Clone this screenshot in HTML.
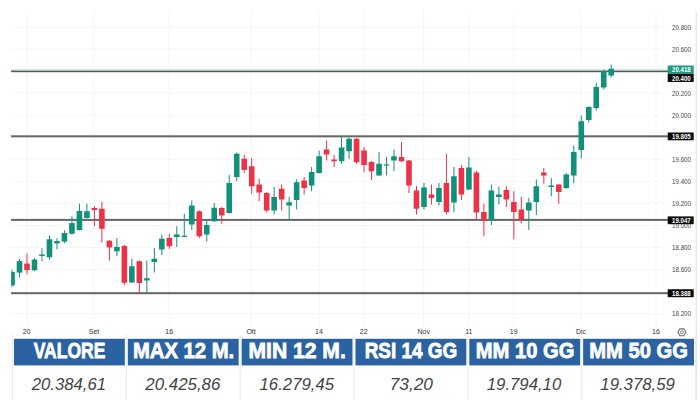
<!DOCTYPE html>
<html><head><meta charset="utf-8"><style>
html,body{margin:0;padding:0;background:#fff;width:700px;height:400px;overflow:hidden;position:relative}
svg{position:absolute;left:0;top:0}
.ax{font-family:"Liberation Sans",sans-serif;font-size:7.2px;fill:#474747}
.tl{font-size:7px;fill:#333}
.ht{font-family:"Liberation Sans",sans-serif;font-weight:bold;font-size:22px;fill:#fff;stroke:#fff;stroke-width:0.8px}
.vt{font-family:"Liberation Sans",sans-serif;font-style:italic;font-size:16.2px;fill:#444444}
.tg{font-family:"Liberation Sans",sans-serif;font-size:7.2px;fill:#fff;font-weight:bold}
</style></head><body>
<svg width="700" height="400" viewBox="0 0 700 400">
<rect x="26.10" y="12" width="1" height="314" fill="#f6f6f6"/>
<rect x="93.50" y="12" width="1" height="314" fill="#f6f6f6"/>
<rect x="168.70" y="12" width="1" height="314" fill="#f6f6f6"/>
<rect x="250.60" y="12" width="1" height="314" fill="#f6f6f6"/>
<rect x="318.50" y="12" width="1" height="314" fill="#f6f6f6"/>
<rect x="363.20" y="12" width="1" height="314" fill="#f6f6f6"/>
<rect x="423.20" y="12" width="1" height="314" fill="#f6f6f6"/>
<rect x="468.30" y="12" width="1" height="314" fill="#f6f6f6"/>
<rect x="513.20" y="12" width="1" height="314" fill="#f6f6f6"/>
<rect x="580.50" y="12" width="1" height="314" fill="#f6f6f6"/>
<rect x="655.50" y="12" width="1" height="314" fill="#f6f6f6"/>
<rect x="10" y="26.40" width="657" height="1" fill="#f6f6f6"/>
<rect x="10" y="48.46" width="657" height="1" fill="#f6f6f6"/>
<rect x="10" y="70.52" width="657" height="1" fill="#f6f6f6"/>
<rect x="10" y="92.58" width="657" height="1" fill="#f6f6f6"/>
<rect x="10" y="114.64" width="657" height="1" fill="#f6f6f6"/>
<rect x="10" y="136.70" width="657" height="1" fill="#f6f6f6"/>
<rect x="10" y="158.76" width="657" height="1" fill="#f6f6f6"/>
<rect x="10" y="180.82" width="657" height="1" fill="#f6f6f6"/>
<rect x="10" y="202.88" width="657" height="1" fill="#f6f6f6"/>
<rect x="10" y="224.94" width="657" height="1" fill="#f6f6f6"/>
<rect x="10" y="247.00" width="657" height="1" fill="#f6f6f6"/>
<rect x="10" y="269.06" width="657" height="1" fill="#f6f6f6"/>
<rect x="10" y="291.12" width="657" height="1" fill="#f6f6f6"/>
<rect x="10" y="313.18" width="657" height="1" fill="#f6f6f6"/>
<rect x="695.6" y="12" width="1.6" height="388" fill="#e8e8e8"/>
<rect x="11" y="135.30" width="657" height="2" fill="#666666"/>
<rect x="11" y="218.90" width="657" height="2" fill="#666666"/>
<rect x="11" y="292.20" width="657" height="2" fill="#666666"/>
<rect x="11" y="68.9" width="657" height="1.6" fill="#dbeae7"/><rect x="11" y="70.6" width="657" height="1.6" fill="#555a59"/>
<defs><clipPath id="cp"><rect x="11.2" y="0" width="660" height="330"/></clipPath></defs><g clip-path="url(#cp)"><rect x="11.52" y="269.70" width="1" height="17.50" fill="#11907a"/>
<rect x="9.22" y="271.90" width="5.6" height="13.50" fill="#11907a"/>
<rect x="19.01" y="258.90" width="1" height="18.60" fill="#11907a"/>
<rect x="16.71" y="261.10" width="5.6" height="11.50" fill="#11907a"/>
<rect x="26.50" y="253.50" width="1" height="20.70" fill="#ec3249"/>
<rect x="24.20" y="263.60" width="5.6" height="6.50" fill="#ec3249"/>
<rect x="33.99" y="258.00" width="1" height="13.00" fill="#11907a"/>
<rect x="31.69" y="259.60" width="5.6" height="10.70" fill="#11907a"/>
<rect x="41.48" y="248.30" width="1" height="12.80" fill="#11907a"/>
<rect x="39.18" y="254.50" width="5.6" height="1.50" fill="#11907a"/>
<rect x="48.97" y="235.50" width="1" height="24.10" fill="#11907a"/>
<rect x="46.67" y="239.30" width="5.6" height="18.00" fill="#11907a"/>
<rect x="56.46" y="238.20" width="1" height="10.80" fill="#11907a"/>
<rect x="54.16" y="241.10" width="5.6" height="2.30" fill="#11907a"/>
<rect x="63.95" y="230.30" width="1" height="12.70" fill="#11907a"/>
<rect x="61.65" y="233.00" width="5.6" height="8.60" fill="#11907a"/>
<rect x="71.44" y="216.20" width="1" height="18.60" fill="#11907a"/>
<rect x="69.14" y="223.10" width="5.6" height="10.60" fill="#11907a"/>
<rect x="78.93" y="203.60" width="1" height="26.90" fill="#11907a"/>
<rect x="76.63" y="211.00" width="5.6" height="19.00" fill="#11907a"/>
<rect x="86.42" y="203.75" width="1" height="14.75" fill="#11907a"/>
<rect x="84.12" y="211.25" width="5.6" height="6.75" fill="#11907a"/>
<rect x="93.91" y="206.25" width="1" height="20.00" fill="#ec3249"/>
<rect x="91.61" y="208.00" width="5.6" height="2.00" fill="#ec3249"/>
<rect x="101.40" y="202.00" width="1" height="40.50" fill="#ec3249"/>
<rect x="99.10" y="208.75" width="5.6" height="20.00" fill="#ec3249"/>
<rect x="108.89" y="240.00" width="1" height="20.50" fill="#ec3249"/>
<rect x="106.59" y="240.75" width="5.6" height="6.75" fill="#ec3249"/>
<rect x="116.38" y="238.00" width="1" height="18.25" fill="#11907a"/>
<rect x="114.08" y="247.00" width="5.6" height="4.25" fill="#11907a"/>
<rect x="123.87" y="245.00" width="1" height="40.00" fill="#ec3249"/>
<rect x="121.57" y="246.00" width="5.6" height="36.75" fill="#ec3249"/>
<rect x="131.36" y="258.75" width="1" height="24.25" fill="#11907a"/>
<rect x="129.06" y="266.25" width="5.6" height="16.25" fill="#11907a"/>
<rect x="138.85" y="260.50" width="1" height="32.50" fill="#ec3249"/>
<rect x="136.55" y="261.25" width="5.6" height="21.75" fill="#ec3249"/>
<rect x="146.34" y="260.50" width="1" height="32.50" fill="#11907a"/>
<rect x="144.04" y="278.25" width="5.6" height="2.25" fill="#11907a"/>
<rect x="153.83" y="248.00" width="1" height="24.50" fill="#11907a"/>
<rect x="151.53" y="258.75" width="5.6" height="3.25" fill="#11907a"/>
<rect x="161.32" y="234.50" width="1" height="20.50" fill="#11907a"/>
<rect x="159.02" y="238.75" width="5.6" height="10.75" fill="#11907a"/>
<rect x="168.81" y="233.75" width="1" height="15.00" fill="#ec3249"/>
<rect x="166.51" y="238.00" width="5.6" height="8.25" fill="#ec3249"/>
<rect x="176.30" y="226.25" width="1" height="20.75" fill="#11907a"/>
<rect x="174.00" y="234.50" width="5.6" height="2.50" fill="#11907a"/>
<rect x="183.79" y="213.75" width="1" height="23.25" fill="#11907a"/>
<rect x="181.49" y="235.65" width="5.6" height="1.20" fill="#11907a"/>
<rect x="191.28" y="200.50" width="1" height="29.50" fill="#11907a"/>
<rect x="188.98" y="205.50" width="5.6" height="19.00" fill="#11907a"/>
<rect x="198.77" y="210.50" width="1" height="27.50" fill="#ec3249"/>
<rect x="196.47" y="211.25" width="5.6" height="25.00" fill="#ec3249"/>
<rect x="206.26" y="219.50" width="1" height="22.00" fill="#11907a"/>
<rect x="203.96" y="225.00" width="5.6" height="9.50" fill="#11907a"/>
<rect x="213.75" y="203.00" width="1" height="19.00" fill="#11907a"/>
<rect x="211.45" y="207.75" width="5.6" height="13.50" fill="#11907a"/>
<rect x="221.24" y="207.00" width="1" height="16.75" fill="#ec3249"/>
<rect x="218.94" y="208.00" width="5.6" height="7.50" fill="#ec3249"/>
<rect x="228.73" y="175.00" width="1" height="38.50" fill="#11907a"/>
<rect x="226.43" y="183.00" width="5.6" height="30.00" fill="#11907a"/>
<rect x="236.22" y="152.50" width="1" height="28.75" fill="#11907a"/>
<rect x="233.92" y="153.75" width="5.6" height="23.25" fill="#11907a"/>
<rect x="243.71" y="154.50" width="1" height="18.50" fill="#ec3249"/>
<rect x="241.41" y="158.75" width="5.6" height="11.25" fill="#ec3249"/>
<rect x="251.20" y="158.00" width="1" height="35.75" fill="#ec3249"/>
<rect x="248.90" y="166.25" width="5.6" height="20.00" fill="#ec3249"/>
<rect x="258.69" y="178.75" width="1" height="22.50" fill="#ec3249"/>
<rect x="256.39" y="184.50" width="5.6" height="8.00" fill="#ec3249"/>
<rect x="266.18" y="192.00" width="1" height="20.50" fill="#ec3249"/>
<rect x="263.88" y="193.00" width="5.6" height="17.50" fill="#ec3249"/>
<rect x="273.67" y="187.00" width="1" height="27.50" fill="#11907a"/>
<rect x="271.37" y="197.00" width="5.6" height="13.50" fill="#11907a"/>
<rect x="281.16" y="184.50" width="1" height="26.00" fill="#ec3249"/>
<rect x="278.86" y="188.75" width="5.6" height="10.75" fill="#ec3249"/>
<rect x="288.65" y="197.00" width="1" height="22.50" fill="#11907a"/>
<rect x="286.35" y="202.25" width="5.6" height="3.25" fill="#11907a"/>
<rect x="296.14" y="179.50" width="1" height="30.00" fill="#11907a"/>
<rect x="293.84" y="182.25" width="5.6" height="17.75" fill="#11907a"/>
<rect x="303.63" y="177.00" width="1" height="17.50" fill="#ec3249"/>
<rect x="301.33" y="180.50" width="5.6" height="7.50" fill="#ec3249"/>
<rect x="311.12" y="167.00" width="1" height="24.25" fill="#11907a"/>
<rect x="308.82" y="172.00" width="5.6" height="13.50" fill="#11907a"/>
<rect x="318.61" y="150.50" width="1" height="23.00" fill="#11907a"/>
<rect x="316.31" y="156.25" width="5.6" height="16.75" fill="#11907a"/>
<rect x="326.10" y="140.50" width="1" height="20.00" fill="#ec3249"/>
<rect x="323.80" y="149.50" width="5.6" height="5.00" fill="#ec3249"/>
<rect x="333.59" y="155.00" width="1" height="12.00" fill="#ec3249"/>
<rect x="331.29" y="159.50" width="5.6" height="1.75" fill="#ec3249"/>
<rect x="341.08" y="136.25" width="1" height="27.50" fill="#11907a"/>
<rect x="338.78" y="147.50" width="5.6" height="13.75" fill="#11907a"/>
<rect x="348.57" y="137.50" width="1" height="21.25" fill="#11907a"/>
<rect x="346.27" y="138.75" width="5.6" height="12.50" fill="#11907a"/>
<rect x="356.06" y="138.00" width="1" height="25.75" fill="#ec3249"/>
<rect x="353.76" y="138.75" width="5.6" height="23.50" fill="#ec3249"/>
<rect x="363.55" y="147.00" width="1" height="25.25" fill="#ec3249"/>
<rect x="361.25" y="150.50" width="5.6" height="14.50" fill="#ec3249"/>
<rect x="371.04" y="161.00" width="1" height="19.00" fill="#ec3249"/>
<rect x="368.74" y="162.00" width="5.6" height="9.25" fill="#ec3249"/>
<rect x="378.53" y="152.00" width="1" height="24.00" fill="#11907a"/>
<rect x="376.23" y="163.75" width="5.6" height="11.75" fill="#11907a"/>
<rect x="386.02" y="157.00" width="1" height="18.50" fill="#11907a"/>
<rect x="383.72" y="164.40" width="5.6" height="1.20" fill="#11907a"/>
<rect x="393.51" y="149.50" width="1" height="21.75" fill="#11907a"/>
<rect x="391.21" y="156.25" width="5.6" height="4.25" fill="#11907a"/>
<rect x="401.00" y="142.00" width="1" height="20.00" fill="#ec3249"/>
<rect x="398.70" y="157.00" width="5.6" height="4.25" fill="#ec3249"/>
<rect x="408.49" y="160.00" width="1" height="33.00" fill="#ec3249"/>
<rect x="406.19" y="160.50" width="5.6" height="25.00" fill="#ec3249"/>
<rect x="415.98" y="186.00" width="1" height="28.50" fill="#ec3249"/>
<rect x="413.68" y="190.50" width="5.6" height="18.25" fill="#ec3249"/>
<rect x="423.47" y="183.00" width="1" height="26.50" fill="#11907a"/>
<rect x="421.17" y="187.50" width="5.6" height="19.50" fill="#11907a"/>
<rect x="430.96" y="184.50" width="1" height="20.00" fill="#ec3249"/>
<rect x="428.66" y="194.50" width="5.6" height="3.50" fill="#ec3249"/>
<rect x="438.45" y="183.00" width="1" height="22.50" fill="#11907a"/>
<rect x="436.15" y="188.00" width="5.6" height="14.00" fill="#11907a"/>
<rect x="445.94" y="153.75" width="1" height="60.75" fill="#ec3249"/>
<rect x="443.64" y="183.00" width="5.6" height="29.00" fill="#ec3249"/>
<rect x="453.43" y="167.00" width="1" height="45.50" fill="#11907a"/>
<rect x="451.13" y="176.25" width="5.6" height="26.25" fill="#11907a"/>
<rect x="460.92" y="165.00" width="1" height="35.00" fill="#ec3249"/>
<rect x="458.62" y="168.00" width="5.6" height="26.50" fill="#ec3249"/>
<rect x="468.41" y="157.00" width="1" height="33.00" fill="#11907a"/>
<rect x="466.11" y="167.50" width="5.6" height="22.00" fill="#11907a"/>
<rect x="475.90" y="171.00" width="1" height="49.50" fill="#ec3249"/>
<rect x="473.60" y="172.50" width="5.6" height="40.00" fill="#ec3249"/>
<rect x="483.39" y="203.75" width="1" height="32.50" fill="#ec3249"/>
<rect x="481.09" y="212.00" width="5.6" height="8.50" fill="#ec3249"/>
<rect x="490.88" y="184.50" width="1" height="40.50" fill="#11907a"/>
<rect x="488.58" y="190.50" width="5.6" height="29.50" fill="#11907a"/>
<rect x="498.37" y="186.50" width="1" height="18.00" fill="#11907a"/>
<rect x="496.07" y="194.50" width="5.6" height="2.50" fill="#11907a"/>
<rect x="505.86" y="186.25" width="1" height="20.75" fill="#ec3249"/>
<rect x="503.56" y="190.00" width="5.6" height="9.50" fill="#ec3249"/>
<rect x="513.35" y="191.25" width="1" height="48.15" fill="#ec3249"/>
<rect x="511.05" y="202.00" width="5.6" height="10.00" fill="#ec3249"/>
<rect x="520.84" y="197.00" width="1" height="26.00" fill="#ec3249"/>
<rect x="518.54" y="209.50" width="5.6" height="10.00" fill="#ec3249"/>
<rect x="528.33" y="198.00" width="1" height="32.00" fill="#11907a"/>
<rect x="526.03" y="202.50" width="5.6" height="8.00" fill="#11907a"/>
<rect x="535.82" y="179.50" width="1" height="35.50" fill="#11907a"/>
<rect x="533.52" y="186.25" width="5.6" height="15.75" fill="#11907a"/>
<rect x="543.31" y="168.00" width="1" height="15.75" fill="#ec3249"/>
<rect x="541.01" y="172.50" width="5.6" height="3.00" fill="#ec3249"/>
<rect x="550.80" y="178.00" width="1" height="18.25" fill="#11907a"/>
<rect x="548.50" y="185.50" width="5.6" height="1.50" fill="#11907a"/>
<rect x="558.29" y="184.00" width="1" height="19.75" fill="#ec3249"/>
<rect x="555.99" y="184.50" width="5.6" height="7.50" fill="#ec3249"/>
<rect x="565.78" y="173.00" width="1" height="16.00" fill="#11907a"/>
<rect x="563.48" y="174.50" width="5.6" height="13.50" fill="#11907a"/>
<rect x="573.27" y="145.50" width="1" height="37.50" fill="#11907a"/>
<rect x="570.97" y="152.00" width="5.6" height="23.50" fill="#11907a"/>
<rect x="580.76" y="115.50" width="1" height="43.00" fill="#11907a"/>
<rect x="578.46" y="121.25" width="5.6" height="28.75" fill="#11907a"/>
<rect x="588.25" y="106.25" width="1" height="16.25" fill="#11907a"/>
<rect x="585.95" y="107.00" width="5.6" height="13.00" fill="#11907a"/>
<rect x="595.74" y="82.50" width="1" height="28.00" fill="#11907a"/>
<rect x="593.44" y="87.00" width="5.6" height="21.00" fill="#11907a"/>
<rect x="603.23" y="69.50" width="1" height="20.00" fill="#11907a"/>
<rect x="600.93" y="71.25" width="5.6" height="16.25" fill="#11907a"/>
<rect x="610.72" y="64.50" width="1" height="13.00" fill="#11907a"/>
<rect x="608.42" y="68.75" width="5.6" height="6.75" fill="#11907a"/></g>
<text x="691" y="29.50" text-anchor="end" class="ax" textLength="19" lengthAdjust="spacingAndGlyphs">20.800</text>
<text x="691" y="51.56" text-anchor="end" class="ax" textLength="19" lengthAdjust="spacingAndGlyphs">20.600</text>
<text x="691" y="95.68" text-anchor="end" class="ax" textLength="19" lengthAdjust="spacingAndGlyphs">20.200</text>
<text x="691" y="117.74" text-anchor="end" class="ax" textLength="19" lengthAdjust="spacingAndGlyphs">20.000</text>
<text x="691" y="139.80" text-anchor="end" class="ax" textLength="19" lengthAdjust="spacingAndGlyphs">19.800</text>
<text x="691" y="161.86" text-anchor="end" class="ax" textLength="19" lengthAdjust="spacingAndGlyphs">19.600</text>
<text x="691" y="183.92" text-anchor="end" class="ax" textLength="19" lengthAdjust="spacingAndGlyphs">19.400</text>
<text x="691" y="205.98" text-anchor="end" class="ax" textLength="19" lengthAdjust="spacingAndGlyphs">19.200</text>
<text x="691" y="228.04" text-anchor="end" class="ax" textLength="19" lengthAdjust="spacingAndGlyphs">19.000</text>
<text x="691" y="250.10" text-anchor="end" class="ax" textLength="19" lengthAdjust="spacingAndGlyphs">18.800</text>
<text x="691" y="272.16" text-anchor="end" class="ax" textLength="19" lengthAdjust="spacingAndGlyphs">18.600</text>
<text x="691" y="294.22" text-anchor="end" class="ax" textLength="19" lengthAdjust="spacingAndGlyphs">18.400</text>
<text x="691" y="316.28" text-anchor="end" class="ax" textLength="19" lengthAdjust="spacingAndGlyphs">18.200</text>
<rect x="667.7" y="65.5" width="26" height="8.30" fill="#1b9a86"/>
<text x="690.7" y="72.25" text-anchor="end" class="tg" textLength="18.7" lengthAdjust="spacingAndGlyphs">20.418</text>
<rect x="667.7" y="73.8" width="26" height="8.20" fill="#0b0b0b"/>
<text x="690.7" y="80.50" text-anchor="end" class="tg" textLength="18.7" lengthAdjust="spacingAndGlyphs">20.400</text>
<rect x="667.7" y="132.5" width="26" height="7.80" fill="#0b0b0b"/>
<text x="690.7" y="139.00" text-anchor="end" class="tg" textLength="18.7" lengthAdjust="spacingAndGlyphs">19.805</text>
<rect x="667.7" y="216.4" width="26" height="7.80" fill="#0b0b0b"/>
<text x="690.7" y="222.90" text-anchor="end" class="tg" textLength="18.7" lengthAdjust="spacingAndGlyphs">19.047</text>
<rect x="667.7" y="289.3" width="26" height="7.90" fill="#0b0b0b"/>
<text x="690.7" y="295.85" text-anchor="end" class="tg" textLength="18.7" lengthAdjust="spacingAndGlyphs">18.388</text>
<text x="26.60" y="334.0" text-anchor="middle" class="ax tl">20</text>
<text x="94.00" y="334.0" text-anchor="middle" class="ax tl">Set</text>
<text x="169.20" y="334.0" text-anchor="middle" class="ax tl">16</text>
<text x="251.10" y="334.0" text-anchor="middle" class="ax tl">Ott</text>
<text x="319.00" y="334.0" text-anchor="middle" class="ax tl">14</text>
<text x="363.70" y="334.0" text-anchor="middle" class="ax tl">22</text>
<text x="423.70" y="334.0" text-anchor="middle" class="ax tl">Nov</text>
<text x="468.80" y="334.0" text-anchor="middle" class="ax tl">11</text>
<text x="513.70" y="334.0" text-anchor="middle" class="ax tl">19</text>
<text x="581.00" y="334.0" text-anchor="middle" class="ax tl">Dic</text>
<text x="656.00" y="334.0" text-anchor="middle" class="ax tl">16</text>
<polygon points="677.9,332.3 679.9,328.9 683.9,328.9 685.9,332.3 683.9,335.7 679.9,335.7" fill="none" stroke="#707070" stroke-width="1.1"/>
<circle cx="681.9" cy="332.3" r="1.5" fill="none" stroke="#707070" stroke-width="0.9"/>
<rect x="14.00" y="338.8" width="110.83" height="26.6" fill="#2a62a2"/>
<rect x="12.00" y="334" width="1" height="66" fill="#ececec"/>
<text x="69.55" y="358.3" text-anchor="middle" class="ht" textLength="71.60" lengthAdjust="spacingAndGlyphs">VALORE</text>
<text x="68.90" y="390.0" text-anchor="middle" class="vt" textLength="74.40" lengthAdjust="spacingAndGlyphs">20.384,61</text>
<rect x="127.83" y="338.8" width="110.83" height="26.6" fill="#2a62a2"/>
<rect x="125.83" y="334" width="1" height="66" fill="#ececec"/>
<text x="183.60" y="358.3" text-anchor="middle" class="ht" textLength="101.20" lengthAdjust="spacingAndGlyphs">MAX 12 M.</text>
<text x="182.85" y="390.0" text-anchor="middle" class="vt" textLength="75.00" lengthAdjust="spacingAndGlyphs">20.425,86</text>
<rect x="241.66" y="338.8" width="110.83" height="26.6" fill="#2a62a2"/>
<rect x="239.66" y="334" width="1" height="66" fill="#ececec"/>
<text x="297.15" y="358.3" text-anchor="middle" class="ht" textLength="97.30" lengthAdjust="spacingAndGlyphs">MIN 12 M.</text>
<text x="296.85" y="390.0" text-anchor="middle" class="vt" textLength="74.60" lengthAdjust="spacingAndGlyphs">16.279,45</text>
<rect x="355.49" y="338.8" width="110.83" height="26.6" fill="#2a62a2"/>
<rect x="353.49" y="334" width="1" height="66" fill="#ececec"/>
<text x="411.00" y="358.3" text-anchor="middle" class="ht" textLength="92.60" lengthAdjust="spacingAndGlyphs">RSI 14 GG</text>
<text x="411.30" y="390.0" text-anchor="middle" class="vt" textLength="43.30" lengthAdjust="spacingAndGlyphs">73,20</text>
<rect x="469.32" y="338.8" width="110.83" height="26.6" fill="#2a62a2"/>
<rect x="467.32" y="334" width="1" height="66" fill="#ececec"/>
<text x="525.15" y="358.3" text-anchor="middle" class="ht" textLength="98.70" lengthAdjust="spacingAndGlyphs">MM 10 GG</text>
<text x="524.00" y="390.0" text-anchor="middle" class="vt" textLength="74.50" lengthAdjust="spacingAndGlyphs">19.794,10</text>
<rect x="583.15" y="338.8" width="110.83" height="26.6" fill="#2a62a2"/>
<rect x="581.15" y="334" width="1" height="66" fill="#ececec"/>
<text x="638.55" y="358.3" text-anchor="middle" class="ht" textLength="98.70" lengthAdjust="spacingAndGlyphs">MM 50 GG</text>
<text x="637.60" y="390.0" text-anchor="middle" class="vt" textLength="74.50" lengthAdjust="spacingAndGlyphs">19.378,59</text>
<rect x="694.98" y="334" width="1" height="66" fill="#ececec"/>
</svg>
</body></html>
